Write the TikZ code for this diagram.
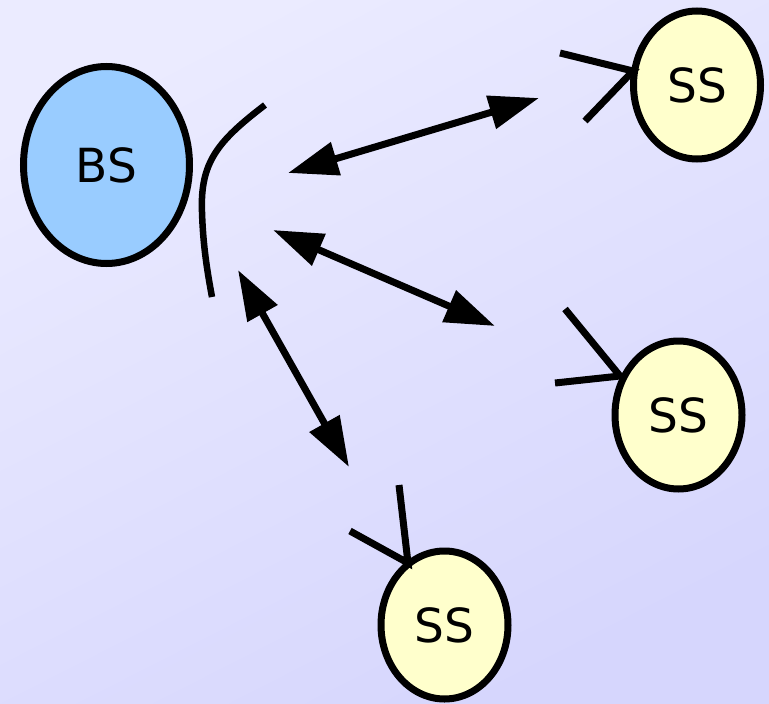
\documentclass[tikz,border=0pt]{standalone}
\usepackage{fontspec}
\setmainfont{DejaVu Sans}
\usetikzlibrary{shapes.geometric,arrows.meta}
\definecolor{bsfill}{HTML}{99CCFF}
\definecolor{ssfill}{HTML}{FFFFCC}
\definecolor{bgtop}{HTML}{EBEBFF}
\definecolor{bgbot}{HTML}{D6D6FD}
\tikzset{
  station/.style={ellipse,draw=black,line width=7pt,inner sep=0pt,font=\fontsize{47}{47}\selectfont},
  bsnode/.style={station,fill=bsfill,minimum width=166pt,minimum height=197pt},
  ssnode/.style={station,fill=ssfill,minimum width=127pt,minimum height=148pt},
  link/.style={line width=7pt,{Triangle[length=50pt,width=33pt]}-{Triangle[length=50pt,width=33pt]}},
  antenna/.style={line width=7pt},
}
\begin{document}
\begin{tikzpicture}[x=1pt,y=-1pt]
\shade[top color=bgtop,bottom color=bgbot,shading angle=27] (0,0) rectangle (769,704);
\useasboundingbox (0,0) rectangle (769,704);

\node[bsnode] (bs) at (106.5,165) {BS};
\node[ssnode] (ss1) at (697,85) {SS};
\node[ssnode] (ss2) at (678.5,415) {SS};
\node[ssnode] (ss3) at (444.5,625) {SS};

% dish
\coordinate (d1) at (265,105);
\coordinate (d2) at (202,212);
\coordinate (d3) at (212,297);
\draw[line width=6.5pt] (d1) .. controls (218,141) and (200,162) .. (d2) .. controls (203,245) and (207,270) .. (d3);

% links
\coordinate (a1s) at (288,173);
\coordinate (a1e) at (539,98);
\coordinate (a2s) at (273,230);
\coordinate (a2e) at (495,326);
\coordinate (a3s) at (238,270);
\coordinate (a3e) at (349,467);
\draw[link] (a1s) -- (a1e);
\draw[link] (a2s) -- (a2e);
\draw[link] (a3s) -- (a3e);

% antennas
\coordinate (t1a) at (560,53);
\coordinate (t1b) at (585,121);
\coordinate (t1c) at (633,71);
\draw[antenna] (t1a) -- (t1c) -- (t1b);
\coordinate (t2a) at (565,309);
\coordinate (t2b) at (555,383);
\coordinate (t2c) at (620,376);
\draw[antenna] (t2a) -- (t2c) -- (t2b);
\coordinate (t3a) at (399,485);
\coordinate (t3b) at (350,531);
\coordinate (t3c) at (408,563);
\draw[antenna] (t3a) -- (t3c) -- (t3b);
\end{tikzpicture}
\end{document}
